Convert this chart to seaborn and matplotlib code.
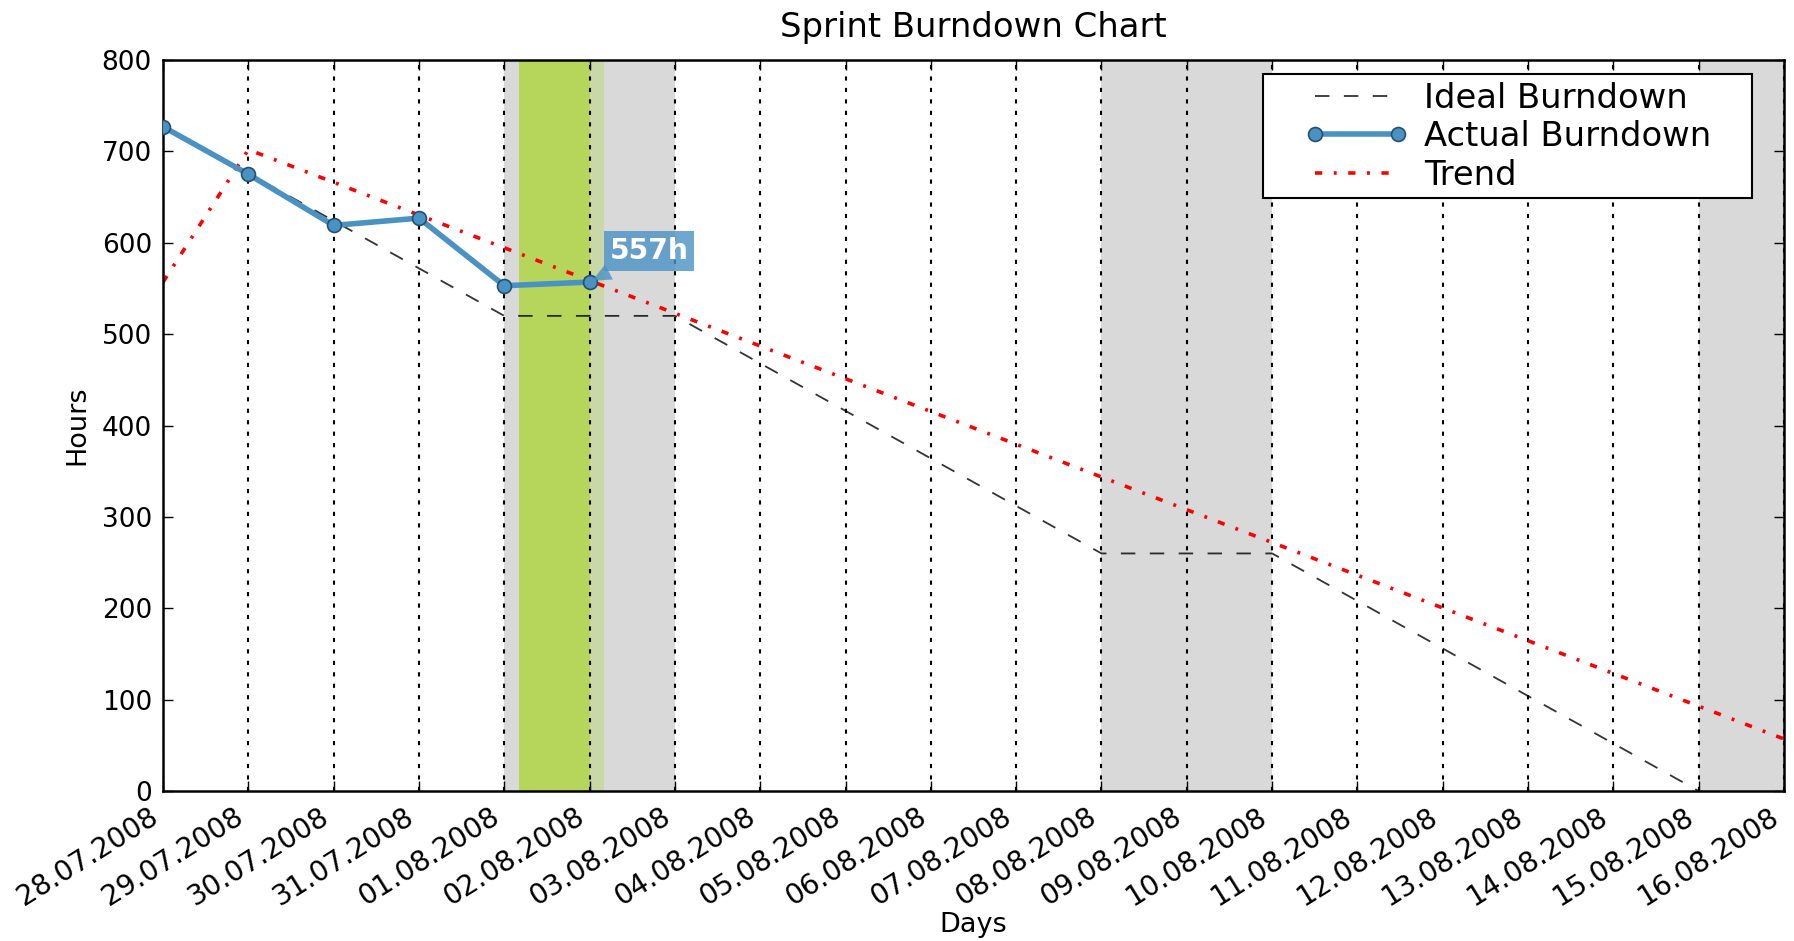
import numpy as np
import matplotlib
matplotlib.use('Agg')
import matplotlib.pyplot as plt
import matplotlib.patches as mpatches
import seaborn as sns

# sprint days (tick labels)
dates = ['28.07.2008', '29.07.2008', '30.07.2008', '31.07.2008', '01.08.2008',
         '02.08.2008', '03.08.2008', '04.08.2008', '05.08.2008', '06.08.2008',
         '07.08.2008', '08.08.2008', '09.08.2008', '10.08.2008', '11.08.2008',
         '12.08.2008', '13.08.2008', '14.08.2008', '15.08.2008', '16.08.2008']

# hours remaining
ideal_hours = [728, 676, 624, 572, 520, 520, 520, 468, 416, 364, 312,
               260, 260, 260, 208, 156, 104, 52, 0]
actual_hours = [727, 675, 619, 627, 553, 557]
trend_days = [0, 1, 19]
trend_hours = [557, 702, 57]

# saturdays / sundays (index into dates), today
weekend_days = [5, 6, 12, 13, 19]
today = 5

plt.rcParams['font.family'] = ['DejaVu Sans']

fig, ax = plt.subplots(figsize=(17.94, 9.41), dpi=100)
fig.subplots_adjust(left=0.0909, right=0.9944, bottom=0.1594, top=0.9362)

# shade weekends + today
for d in weekend_days:
    ax.axvspan(d - 1, d, color='#d9d9d9', lw=0, zorder=0)
ax.axvspan(today - 0.83, today + 0.17, color='#b5d65b', lw=0, zorder=0.5)
ax.axvspan(today, today + 0.17, color='#d9d9d9', alpha=0.6, lw=0, zorder=0.6)

sns.lineplot(x=np.arange(len(ideal_hours)), y=ideal_hours, ax=ax, color='k',
             lw=1.3, linestyle=(0, (8, 8)), alpha=0.8, label='Ideal Burndown', zorder=3)
sns.lineplot(x=np.arange(len(actual_hours)), y=actual_hours, ax=ax, color='#4a92c4',
             lw=4, marker='o', markersize=10, markeredgecolor='#24506f',
             markeredgewidth=1.2, label='Actual Burndown', zorder=4)
sns.lineplot(x=trend_days, y=trend_hours, ax=ax, color='red', lw=2.6,
             linestyle=(0, (2, 3.2, 0.8, 3.2)), label='Trend', zorder=2)

# label on the latest value
ax.annotate('%dh' % actual_hours[-1], xy=(len(actual_hours) - 1, actual_hours[-1]),
            xytext=(20, 17), textcoords='offset pixels', ha='left', va='bottom',
            color='white', fontweight='bold', fontsize=20.3, zorder=6,
            bbox=dict(boxstyle='square,pad=0.2', fc='#4a92c4', ec='none', alpha=0.8),
            arrowprops=dict(arrowstyle='wedge,tail_width=0.6', fc='#4a92c4',
                            ec='none', alpha=0.8))

ax.set_xlim(0, len(dates) - 1)
ax.set_ylim(0, 800)
ax.set_xticks(np.arange(len(dates)))
ax.set_xticklabels(dates, rotation=32, ha='right')
ax.set_yticks(np.arange(0, 801, 100))
ax.tick_params(direction='in', top=True, right=True, length=7, width=1,
               labelsize=19, pad=8, colors='k')
ax.tick_params(axis='x', labelsize=20.2)
ax.grid(axis='x', color='k', linestyle=(0, (2, 3.5)), lw=1.5)
for s in ax.spines.values():
    s.set_linewidth(1.8)
    s.set_color('k')

ax.set_title('Sprint Burndown Chart', fontsize=24.4, pad=16.5)
ax.set_xlabel('Days', fontsize=19.5, labelpad=1)
ax.set_ylabel('Hours', fontsize=19.5, labelpad=8)

# legend frame drawn separately (wide side margins, tight rows)
ax.add_patch(mpatches.Rectangle((0.6786, 0.8112), 0.3017, 0.1696, transform=ax.transAxes,
                                fc='white', ec='k', lw=1.5, zorder=4.9))
leg = ax.legend(loc='center left', bbox_to_anchor=(0.7045, 0.895), borderaxespad=0,
                fontsize=24.3, numpoints=2, handlelength=3.05, handletextpad=0.47,
                borderpad=0, labelspacing=0.16, frameon=False)
leg.set_zorder(5)

fig.savefig('out.png', dpi=100)
